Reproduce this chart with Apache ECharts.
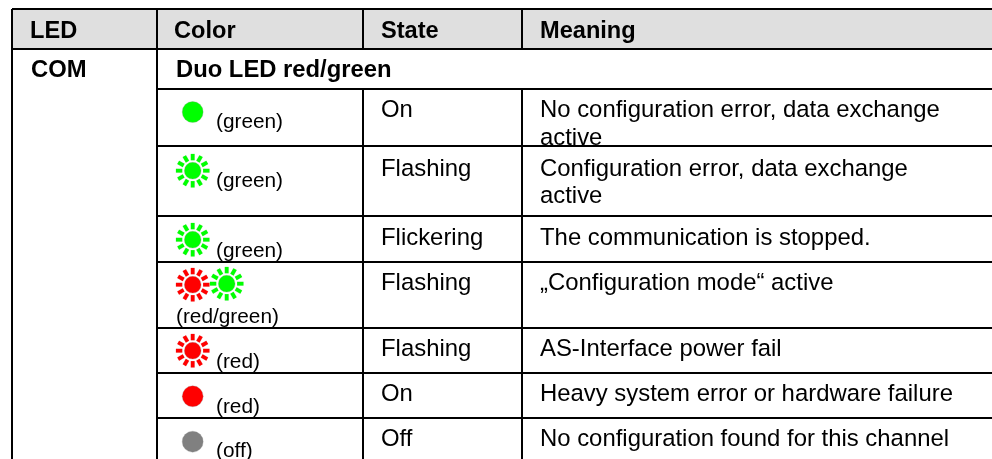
<!DOCTYPE html>
<html><head><meta charset="utf-8">
<style>html,body{margin:0;padding:0;background:#fff}#c{width:992px;height:459px}</style>
<script src="https://cdn.jsdelivr.net/npm/echarts@6/dist/echarts.min.js"></script>
</head><body><div id="c"></div>
<script>
// ---- table content ----
const headers = ['LED', 'Color', 'State', 'Meaning'];
const ledName = 'COM';
const ledType = 'Duo LED red/green';
const colorLabels = ['(green)', '(green)', '(green)', '(red/green)', '(red)', '(red)', '(off)'];
const states = ['On', 'Flashing', 'Flickering', 'Flashing', 'Flashing', 'On', 'Off'];
const meanings = [
  ['No configuration error, data exchange', 'active'],
  ['Configuration error, data exchange', 'active'],
  ['The communication is stopped.'],
  ['\u201EConfiguration mode\u201C active'],
  ['AS-Interface power fail'],
  ['Heavy system error or hardware failure'],
  ['No configuration found for this channel']
];
const ledKinds = ['on', 'flash', 'flash', 'flash', 'flash', 'on', 'on'];
const ledColors = [['#00ff00'], ['#00ff00'], ['#00ff00'], ['#ff0000', '#00ff00'], ['#ff0000'], ['#ff0000'], ['#808080']];

// ---- layout (axis units equal pixels) ----
const colX = [12, 157, 363, 522];
const W = 992, H = 459;
const headTop = 9, headBottom = 49, subBottom = 89;
const rowBottoms = [146, 216, 262, 328, 373, 418, 470];
const rowBaseline = [117, 176, 245, 290, 356, 401, 446];
const rowLineGap = [27.5, 26.5];
const labelBaseline = [128, 187, 257, 323, 368, 413, 457];
const ledY = [112, 170.7, 239.7, 284.7, 350.7, 396.3, 441.7];
const textFont = '"Liberation Sans", Arial, sans-serif';
const bodySize = 23.9, headSize = 23.6, subSize = 23.8, smallSize = 20.8;

// ---- build primitive lists from the table ----
const rects = [[0, 0]];
const rules = [
  [colX[0], headTop, W, headTop], [colX[0], headBottom, W, headBottom],
  [colX[1], subBottom, W, subBottom],
  [colX[0], headTop, colX[0], H], [colX[1], headTop, colX[1], H],
  [colX[2], headTop, colX[2], headBottom], [colX[3], headTop, colX[3], headBottom],
  [colX[2], subBottom, colX[2], H], [colX[3], subBottom, colX[3], H]
];
rowBottoms.forEach(y => { if (y < H) rules.push([colX[1], y, W, y]); });

const texts = [];
const headXs = [30, 174, 381, 540];
headers.forEach((t, i) => texts.push({t, x: headXs[i], y: 38, s: headSize, b: true, bot: headBottom}));
texts.push({t: ledName, x: 31, y: 77, s: subSize, b: true, bot: subBottom});
texts.push({t: ledType, x: 176, y: 77, s: subSize, b: true, bot: subBottom});
states.forEach((t, i) => {
  texts.push({t, x: 381, y: rowBaseline[i], s: bodySize, b: false, bot: rowBottoms[i]});
  meanings[i].forEach((line, k) => texts.push({
    t: line, x: 540, y: rowBaseline[i] + (k ? rowLineGap[i] : 0), s: bodySize, b: false, bot: rowBottoms[i]
  }));
  const lbl = colorLabels[i];
  texts.push({t: lbl, x: lbl === '(red/green)' ? 176 : 216, y: labelBaseline[i], s: smallSize, b: false, bot: rowBottoms[i]});
});

const leds = [];
ledKinds.forEach((k, i) => ledColors[i].forEach((c, j) => leds.push({
  kind: k, color: c, x: 192.7 + j * 34, y: ledY[i] - j
})));

function renderRules(p, api) {
  const r = rules[p.dataIndex];
  const a = api.coord([r[0], r[1]]), b = api.coord([r[2], r[3]]);
  return {type: 'line', shape: {x1: a[0], y1: a[1], x2: b[0], y2: b[1]},
    style: {stroke: '#000', lineWidth: r[0] === r[2] ? 2 : 1.8}, z2: 5};
}
function renderText(p, api) {
  const d = texts[p.dataIndex];
  const a = api.coord([d.x, d.y]);
  const bot = api.coord([0, d.bot])[1];
  // offset from the vertical middle of the text box to its alphabetic baseline
  const off = 0.26 * d.s;
  return {type: 'text', x: a[0], y: a[1] - off,
    style: {text: d.t, fill: '#000', align: 'left', verticalAlign: 'middle',
      font: (d.b ? 'bold ' : '') + d.s + 'px ' + textFont},
    clipPath: {type: 'rect', shape: {x: -20, y: bot - a[1] + off - 100, width: 500, height: 100}}};
}
function renderLed(p, api) {
  const d = leds[p.dataIndex];
  const c = api.coord([d.x, d.y]);
  const children = [];
  const R = d.kind === 'on' ? 10.5 : 8.4;
  children.push({type: 'circle', shape: {cx: c[0], cy: c[1], r: R},
    style: {fill: d.color, stroke: 'rgba(150,150,150,0.3)', lineWidth: 1}});
  if (d.kind === 'flash') {
    for (let i = 0; i < 12; i++) {
      const t = i * Math.PI / 6, cs = Math.cos(t), sn = Math.sin(t);
      const shape = {x1: c[0] + 10.4 * cs, y1: c[1] + 10.4 * sn, x2: c[0] + 16.8 * cs, y2: c[1] + 16.8 * sn};
      children.push({type: 'line', shape, style: {stroke: 'rgba(150,150,150,0.2)', lineWidth: 4.6, lineCap: 'butt'}});
      children.push({type: 'line', shape, style: {stroke: d.color, lineWidth: 3.8, lineCap: 'butt'}});
    }
  }
  return {type: 'group', children};
}
function renderHead(p, api) {
  const a = api.coord([colX[0], headTop]), b = api.coord([W, headBottom]);
  return {type: 'rect', shape: {x: a[0], y: a[1], width: b[0] - a[0], height: b[1] - a[1]}, style: {fill: '#dfdfdf'}};
}

const chart = echarts.init(document.getElementById('c'), null, {renderer: 'canvas'});
chart.setOption({
  animation: false,
  backgroundColor: '#fff',
  grid: {left: 0, right: 0, top: 0, bottom: 0},
  xAxis: {type: 'value', min: 0, max: W, show: false},
  yAxis: {type: 'value', min: 0, max: H, inverse: true, show: false},
  tooltip: {show: false},
  series: [
    {type: 'custom', name: 'header', clip: false, silent: true, z: 1, renderItem: renderHead, data: rects},
    {type: 'custom', name: 'text', clip: false, silent: true, z: 2, renderItem: renderText, data: texts.map(d => [d.x, d.y])},
    {type: 'custom', name: 'leds', clip: false, silent: true, z: 3, renderItem: renderLed, data: leds.map(d => [d.x, d.y])},
    {type: 'custom', name: 'rules', clip: false, silent: true, z: 4, renderItem: renderRules, data: rules.map(r => [r[0], r[1]])}
  ]
});
</script></body></html>
